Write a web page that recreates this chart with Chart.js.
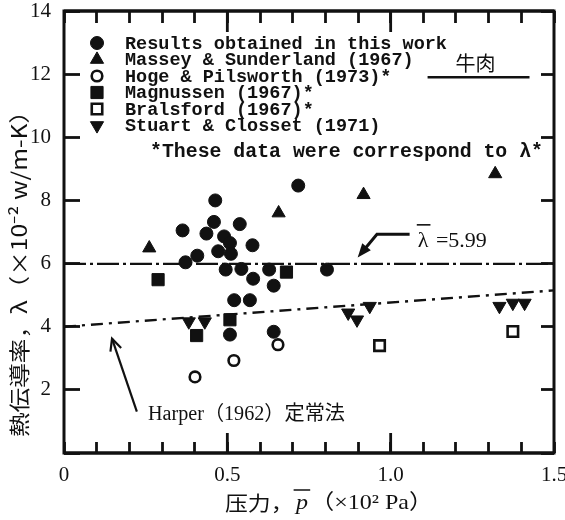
<!DOCTYPE html>
<html>
<head>
<meta charset="utf-8">
<script src="https://cdn.jsdelivr.net/npm/chart.js@4"></script>
<style>
  html, body { margin: 0; padding: 0; background: #fff; }
  #wrap { width: 565px; height: 520px; }
</style>
</head>
<body>
<div id="wrap"><canvas id="chart" width="565" height="520"></canvas></div>
<script>
// values (x: pressure x10^2 Pa, y: lambda x10^-2 W/m-K)
const resultsX = [0.463, 0.717, 0.363, 0.459, 0.538, 0.436, 0.490, 0.508, 0.577, 0.408, 0.472, 0.511,
                  0.372, 0.495, 0.543, 0.628, 0.805, 0.579, 0.642, 0.521, 0.569, 0.508, 0.642];
const resultsY = [8.00, 8.47, 7.05, 7.32, 7.25, 6.95, 6.86, 6.65, 6.58, 6.25, 6.39, 6.31,
                  6.04, 5.81, 5.83, 5.81, 5.81, 5.52, 5.30, 4.84, 4.84, 3.75, 3.84];
const masseyX = [0.261, 0.657, 0.917, 1.320];
const masseyY = [6.49, 7.60, 8.18, 8.84];
const hogeX = [0.401, 0.520, 0.655];
const hogeY = [2.41, 2.93, 3.43];
const magnussenX = [0.288, 0.681, 0.406, 0.508];
const magnussenY = [5.49, 5.73, 3.72, 4.22];
const bralsfordX = [0.966, 1.374];
const bralsfordY = [3.40, 3.85];
const stuartX = [0.382, 0.431, 0.870, 0.897, 0.936, 1.333, 1.374, 1.410];
const stuartY = [4.16, 4.16, 4.44, 4.22, 4.65, 4.65, 4.75, 4.75];

const meanX = [0, 1.5];
const meanY = [5.99, 5.99];
const harperX = [0, 1.5];
const harperY = [4.0, 5.15];
const beefX = [1.113, 1.425];
const beefY = [11.9, 11.9];

const xTicks = [0, 0.5, 1.0, 1.5];
const yTicks = [2, 4, 6, 8, 10, 12, 14];

const labels = [
  'Results obtained in this work',
  'Massey & Sunderland (1967)',
  'Hoge & Pilsworth (1973)*',
  'Magnussen (1967)*',
  'Bralsford (1967)*',
  'Stuart & Closset (1971)'
];

const INK = '#111';
const pts = (xs, ys) => xs.map((x, i) => ({ x: x, y: ys[i] }));

function marker(label, xs, ys, style, r, filled, rot) {
  return {
    label: label,
    data: pts(xs, ys),
    pointStyle: style,
    pointRadius: r,
    pointRotation: rot || 0,
    backgroundColor: filled ? INK : '#fff',
    borderColor: INK,
    borderWidth: filled ? 1 : 2.6,
    showLine: false,
    isMarker: true
  };
}

function line(xs, ys, dash) {
  return {
    data: pts(xs, ys),
    showLine: true,
    pointRadius: 0,
    borderColor: INK,
    borderWidth: 2.4,
    borderDash: dash,
    fill: false
  };
}

function drawMark(ctx, ds, x, y) {
  const r = ds.pointRadius;
  ctx.save();
  ctx.fillStyle = ds.backgroundColor;
  ctx.strokeStyle = ds.borderColor;
  ctx.lineWidth = ds.borderWidth;
  ctx.beginPath();
  if (ds.pointStyle === 'circle') {
    ctx.arc(x, y, r, 0, Math.PI * 2);
  } else if (ds.pointStyle === 'rect') {
    const s = r / Math.SQRT2;
    ctx.rect(x - s, y - s, 2 * s, 2 * s);
  } else {
    const sgn = ds.pointRotation === 180 ? -1 : 1;
    const h = Math.sqrt(3) / 2 * r;
    ctx.moveTo(x, y - sgn * r);
    ctx.lineTo(x + h, y + sgn * r / 2);
    ctx.lineTo(x - h, y + sgn * r / 2);
    ctx.closePath();
  }
  ctx.fill();
  ctx.stroke();
  ctx.restore();
}

function seg(ctx, x1, y1, x2, y2) {
  ctx.beginPath();
  ctx.moveTo(x1, y1);
  ctx.lineTo(x2, y2);
  ctx.stroke();
}

// draw a text stretched horizontally to a given width
function fitText(ctx, txt, x, y, w) {
  const m = ctx.measureText(txt).width;
  ctx.save();
  ctx.translate(x, y);
  ctx.scale(w / m, 1);
  ctx.fillText(txt, 0, 0);
  ctx.restore();
}

const decor = {
  id: 'decor',
  afterDraw(chart) {
    const ctx = chart.ctx;
    const a = chart.chartArea;
    const sx = chart.scales.x, sy = chart.scales.y;
    const X = v => sx.getPixelForValue(v), Y = v => sy.getPixelForValue(v);
    ctx.save();
    ctx.setLineDash([]);
    ctx.strokeStyle = INK;
    ctx.fillStyle = INK;

    // frame
    ctx.lineWidth = 3;
    ctx.strokeRect(a.left, a.top, a.right - a.left, a.bottom - a.top);

    // longer ticks at 0.5 and 1.0 (comb paths along the frame)
    ctx.lineWidth = 2.8;
    ctx.beginPath();
    ctx.moveTo(a.left, a.bottom);
    [0.5, 1.0].forEach(v => { const p = X(v); ctx.lineTo(p, a.bottom); ctx.lineTo(p, a.bottom - 20); ctx.lineTo(p, a.bottom); });
    ctx.lineTo(a.right, a.bottom);
    ctx.stroke();
    ctx.beginPath();
    ctx.moveTo(a.left, a.top);
    [0.5, 1.0].forEach(v => { const p = X(v); ctx.lineTo(p, a.top); ctx.lineTo(p, a.top + 21); ctx.lineTo(p, a.top); });
    ctx.lineTo(a.right, a.top);
    ctx.stroke();

    // legend
    const mk = chart.data.datasets.filter(d => d.isMarker);
    ctx.font = 'bold 18.5px "Liberation Mono"';
    ctx.textBaseline = 'middle';
    ctx.textAlign = 'left';
    mk.forEach((d, i) => {
      const y = a.top + 32 + i * 16.5;
      drawMark(ctx, d, a.left + 33, y);
      ctx.fillStyle = INK;
      ctx.fillText(d.label, a.left + 61, y + 1);
    });
    ctx.font = 'bold 19.5px "Liberation Mono"';
    fitText(ctx, '*These data were correspond to \u03bb*', a.left + 86, a.top + 141, 393);

    // beef label
    ctx.font = '20px "Noto Sans CJK JP"';
    ctx.textAlign = 'center';
    ctx.fillText('牛肉', X((beefX[0] + beefX[1]) / 2) - 3, Y(beefY[0]) - 14);

    // mean label + arrow
    ctx.font = '22px "Liberation Serif"';
    ctx.textAlign = 'left';
    const lx = X(1.083), ly = Y(6.72);
    ctx.fillText('\u03bb', lx, ly);
    const lw = ctx.measureText('\u03bb').width;
    ctx.fillText(' =5.99', lx + lw + 2, ly);
    ctx.lineWidth = 1.6;
    seg(ctx, lx - 1, ly - 16, lx + lw + 2, ly - 16);

    ctx.lineWidth = 3;
    const tip = [X(0.899), Y(6.19)], bend = [X(0.958), Y(6.93)], tail = [X(1.058), Y(6.93)];
    ctx.beginPath(); ctx.moveTo(tail[0], tail[1]); ctx.lineTo(bend[0], bend[1]); ctx.lineTo(tip[0] + 5, tip[1] - 6); ctx.stroke();
    let ang = Math.atan2(tip[1] - bend[1], tip[0] - bend[0]);
    ctx.beginPath();
    ctx.moveTo(tip[0], tip[1]);
    ctx.lineTo(tip[0] - 15 * Math.cos(ang - 0.38), tip[1] - 15 * Math.sin(ang - 0.38));
    ctx.lineTo(tip[0] - 15 * Math.cos(ang + 0.38), tip[1] - 15 * Math.sin(ang + 0.38));
    ctx.closePath(); ctx.fill();

    // Harper label + arrow
    ctx.font = '20px "Liberation Serif", "Noto Sans CJK JP"';
    fitText(ctx, 'Harper\uff081962\uff09定常法', X(0.257), Y(1.2), 197);
    const ht = [X(0.147), Y(3.62)], hb = [X(0.223), Y(1.31)];
    ctx.lineWidth = 2.2;
    seg(ctx, hb[0], hb[1], ht[0], ht[1]);
    ang = Math.atan2(ht[1] - hb[1], ht[0] - hb[0]);
    ctx.beginPath();
    ctx.moveTo(ht[0] - 13 * Math.cos(ang - 0.45), ht[1] - 13 * Math.sin(ang - 0.45));
    ctx.lineTo(ht[0], ht[1]);
    ctx.lineTo(ht[0] - 13 * Math.cos(ang + 0.45), ht[1] - 13 * Math.sin(ang + 0.45));
    ctx.stroke();

    // axis titles
    ctx.font = '21px "Noto Sans CJK JP", "Liberation Serif"';
    ctx.textAlign = 'left';
    ctx.textBaseline = 'middle';
    ctx.save();
    ctx.translate(19, 437);
    ctx.rotate(-Math.PI / 2);
    fitText(ctx, '熱伝導率，\u03bb\uff08\u00d710\u207b\u00b2 w/m-K\uff09', 0, 0, 338);
    ctx.restore();

    // x title with overbar p
    const t1 = '压力，', t2 = 'p', t3 = '\uff08\u00d710\u00b2 Pa\uff09';
    const f1 = '20px "Noto Sans CJK JP"', f2 = 'italic 21px "Liberation Serif"', f3 = '21px "Liberation Serif", "Noto Sans CJK JP"';
    ctx.font = f1; const w1 = ctx.measureText(t1).width;
    ctx.font = f2; const w2 = ctx.measureText(t2).width;
    ctx.font = f3; const w3 = ctx.measureText(t3).width;
    const k = 208 / (w1 + w2 + w3 + 4);
    ctx.save();
    ctx.translate(225, 503);
    ctx.scale(k, 1);
    ctx.font = f1; ctx.fillText(t1, 0, 0);
    ctx.font = f2; ctx.fillText(t2, w1 + 2, 0);
    ctx.font = f3; ctx.fillText(t3, w1 + w2 + 4, 0);
    ctx.lineWidth = 1.5;
    seg(ctx, w1, -13, w1 + w2 + 4, -13);
    ctx.restore();

    ctx.restore();
  }
};

const datasets = [
  marker(labels[0], resultsX, resultsY, 'circle', 6.5, true),
  marker(labels[1], masseyX, masseyY, 'triangle', 7.6, true),
  marker(labels[2], hogeX, hogeY, 'circle', 5.3, false),
  marker(labels[3], magnussenX, magnussenY, 'rect', 8.6, true),
  marker(labels[4], bralsfordX, bralsfordY, 'rect', 7.4, false),
  marker(labels[5], stuartX, stuartY, 'triangle', 7.6, true, 180),
  line(meanX, meanY, [22, 4, 3, 4]),
  line(harperX, harperY, [12, 6, 3, 6]),
  line(beefX, beefY, [])
];

// native tick marks turned inward with a negative tick length
const inwardGrid = len => ({
  display: true, drawOnChartArea: false, drawTicks: true,
  tickLength: -len, tickWidth: 2.8, tickColor: INK
});
const tickFont = { family: 'Liberation Serif', size: 21 };

new Chart(document.getElementById('chart'), {
  type: 'scatter',
  data: { datasets: datasets },
  options: {
    responsive: false,
    animation: false,
    devicePixelRatio: 1,
    layout: { padding: 0 },
    plugins: { legend: { display: false }, tooltip: { enabled: false } },
    scales: {
      x: {
        type: 'linear', min: 0, max: 1.5, position: 'bottom',
        grid: inwardGrid(11),
        border: { display: false },
        ticks: {
          stepSize: 0.1, autoSkip: false, maxRotation: 0, padding: 21,
          color: INK, font: tickFont,
          callback: v => xTicks.some(t => Math.abs(t - v) < 1e-6) ? (v === 0 ? '0' : v.toFixed(1)) : ''
        },
        afterFit: s => { s.height = 67; s.paddingLeft = 0; s.paddingRight = 0; }
      },
      x2: {
        type: 'linear', min: 0, max: 1.5, position: 'top',
        grid: inwardGrid(12),
        border: { display: false },
        ticks: { stepSize: 0.1, autoSkip: false, maxRotation: 0, color: 'rgba(0,0,0,0)', callback: () => '' },
        afterFit: s => { s.height = 11; s.paddingLeft = 0; s.paddingRight = 0; }
      },
      y: {
        type: 'linear', min: 0, max: 14, position: 'left',
        grid: inwardGrid(16),
        border: { display: false },
        ticks: {
          stepSize: 2, padding: 29,
          color: INK, font: tickFont,
          callback: v => yTicks.includes(v) ? String(v) : ''
        },
        afterFit: s => { s.width = 64; s.paddingTop = 0; s.paddingBottom = 0; }
      },
      y2: {
        type: 'linear', min: 0, max: 14, position: 'right',
        grid: inwardGrid(13),
        border: { display: false },
        ticks: { stepSize: 2, color: 'rgba(0,0,0,0)', callback: () => '' },
        afterFit: s => { s.width = 11; s.paddingTop = 0; s.paddingBottom = 0; }
      }
    }
  },
  plugins: [decor]
});
</script>
</body>
</html>
